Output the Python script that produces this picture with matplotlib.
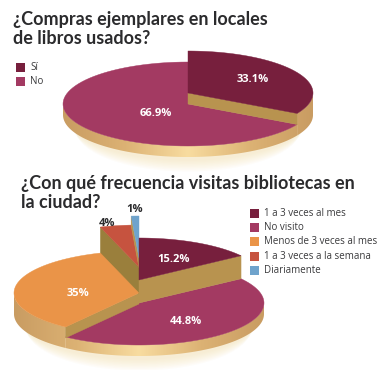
import numpy as np
import matplotlib
matplotlib.use("Agg")
import matplotlib.pyplot as plt
from matplotlib.patches import Polygon, Rectangle
from matplotlib.colors import LinearSegmentedColormap

W, H = 386, 370

titulo1 = ["¿Compras ejemplares en locales", "de libros usados?"]
labels1 = ["Sí", "No"]
values1 = [33.1, 66.9]
pct1 = ["33.1%", "66.9%"]
colors1 = ["#771f3d", "#a33a62"]

titulo2 = ["¿Con qué frecuencia visitas bibliotecas en", "la ciudad?"]
labels2 = ["1 a 3 veces al mes", "No visito", "Menos de 3 veces al mes",
           "1 a 3 veces a la semana", "Diariamente"]
values2 = [15.2, 44.8, 35, 4, 1]
pct2 = ["15.2%", "44.8%", "35%", "4%", "1%"]
colors2 = ["#771f3d", "#a33a62", "#ea9448", "#c6533f", "#6fa3cc"]

FONT = "Open Sans"
TITLE_FONT = "Lato"
CUT = "#b8934f"
CUT_DARK = "#9a7f3c"
rim_cmap = LinearSegmentedColormap.from_list("rim", ["#c99c62", "#dcb274", "#f8dca0", "#dcb274", "#c99c62"])


def arc(cx, cy, rx, ry, a0, a1, n=80):
    # angles clockwise from the top, in degrees
    t = np.radians(np.linspace(a0, a1, n))
    return np.column_stack([cx + rx * np.sin(t), cy - ry * np.cos(t)])


def angles(vals):
    edges = np.concatenate([[0], np.cumsum(vals)]) / np.sum(vals) * 360
    return edges[:-1], edges[1:]


def rim(ax, cx, cy, rx, ry, depth, a0, a1, z):
    a0, a1 = max(a0, 90), min(a1, 270)
    if a1 <= a0:
        return
    top = arc(cx, cy, rx, ry, a0, a1)
    bot = top[::-1] + [0, depth]
    p = Polygon(np.vstack([top, bot]), fc="none", ec="none", zorder=z)
    ax.add_patch(p)
    im = ax.imshow(np.linspace(0, 1, 256)[None, :], cmap=rim_cmap, aspect="auto",
                   extent=(cx - rx, cx + rx, cy + ry + depth + 2, cy - ry), zorder=z)
    im.set_clip_path(p)


def glow(ax, cx, cy, rx, ry):
    for i in range(8):
        pts = arc(cx, cy + i * 1.5, rx - 6 - i, ry, 0, 360)
        ax.add_patch(Polygon(pts, fc="#f6dfa8", ec="none", alpha=0.07, zorder=0))


def slice_top(ax, cx, cy, rx, ry, a0, a1, color, z):
    pts = np.vstack([[[cx, cy]], arc(cx, cy, rx, ry, a0, a1)])
    ax.add_patch(Polygon(pts, fc=color, ec=color, lw=0.3, zorder=z))


def cut_face(ax, cx, cy, rx, ry, depth, a, color, z):
    e = arc(cx, cy, rx, ry, a, a, 1)[0]
    ax.add_patch(Polygon([[cx, cy], e, e + [0, depth], [cx, cy + depth]], fc=color, ec=color, lw=0.3, zorder=z))


def legend(ax, x, y0, step, size, labels, colors, fs):
    for i, (lab, c) in enumerate(zip(labels, colors)):
        y = y0 + i * step
        ax.add_patch(Rectangle((x, y - size / 2), size, size, fc=c, ec="none", zorder=10))
        ax.text(x + size + 5, y, lab, fontsize=fs, color="#3a3a3c", va="center", family=FONT, zorder=10)


def titulo(ax, x, ys, lines):
    for y, line in zip(ys, lines):
        ax.text(x, y, line, fontsize=13, fontweight="bold", color="#2b2b2d", va="center",
                family=TITLE_FONT, zorder=9)


fig = plt.figure(figsize=(W / 100, H / 100), dpi=100)
ax = fig.add_axes([0, 0, 1, 1])
ax.set_xlim(0, W)
ax.set_ylim(H, 0)
ax.axis("off")

# first pie
a0, a1 = angles(values1)
rx, ry = 125, 42
cx, cy_low, cy_up = 188, 104, 93
glow(ax, cx, cy_low + 15, rx, ry)
rim(ax, cx, cy_low, rx, ry, 11, a0[1], a1[1], 1)
rim(ax, cx, cy_up, rx, ry, 22, a0[0], a1[0], 2)
slice_top(ax, cx, cy_low, rx, ry, a0[1], a1[1], colors1[1], 3)
cut_face(ax, cx, cy_up, rx, ry, 11, a1[0], CUT, 4)
slice_top(ax, cx, cy_up, rx, ry, a0[0], a1[0], colors1[0], 5)

ax.text(253, 79, pct1[0], color="white", fontsize=8, fontweight="bold", ha="center", va="center", family=FONT, zorder=9)
ax.text(156, 113, pct1[1], color="white", fontsize=8, fontweight="bold", ha="center", va="center", family=FONT, zorder=9)
titulo(ax, 13, [20, 38], titulo1)
legend(ax, 16, 67, 14.5, 9, labels1, colors1, 7)

# second pie, every slice is pulled up by its own offset
a0, a1 = angles(values2)
cx = 139
cy = [280, 303, 293, 267, 258]
d = [23, 11, 21, 27, 10]
glow(ax, cx, cy[1] + 15, rx, ry)
rim(ax, cx, cy[2], rx, ry, d[2], a0[2], a1[2], 1)
rim(ax, cx, cy[1], rx, ry, d[1], a0[1], a1[1], 2)
slice_top(ax, cx, cy[1], rx, ry, a0[1], a1[1], colors2[1], 3)
cut_face(ax, cx, cy[2], rx, ry, 11, a0[2], CUT, 4)
cut_face(ax, cx, cy[3], rx, ry, d[3], a0[3], CUT_DARK, 4)
slice_top(ax, cx, cy[2], rx, ry, a0[2], a1[2], colors2[2], 5)
slice_top(ax, cx, cy[3], rx, ry, a0[3], a1[3], colors2[3], 7)
cut_face(ax, cx, cy[4], rx, ry, d[4], a0[4], CUT, 7)
slice_top(ax, cx, cy[4], rx, ry, a0[4], a1[4], colors2[4], 7)
cut_face(ax, cx, cy[0], rx, ry, d[0], a1[0], CUT, 8)
slice_top(ax, cx, cy[0], rx, ry, a0[0], a1[0], colors2[0], 9)

pos2 = [(174, 259), (186, 321), (78, 293), (107, 223), (135, 209)]
for i, (x, y) in enumerate(pos2):
    col = "white" if i < 3 else "#2b2b2d"
    ax.text(x, y, pct2[i], color=col, fontsize=8, fontweight="bold", ha="center", va="center", family=FONT, zorder=10)
titulo(ax, 21, [183, 202], titulo2)
legend(ax, 250, 213, 14.4, 9, labels2, colors2, 7)

fig.savefig("out.png", dpi=100)
